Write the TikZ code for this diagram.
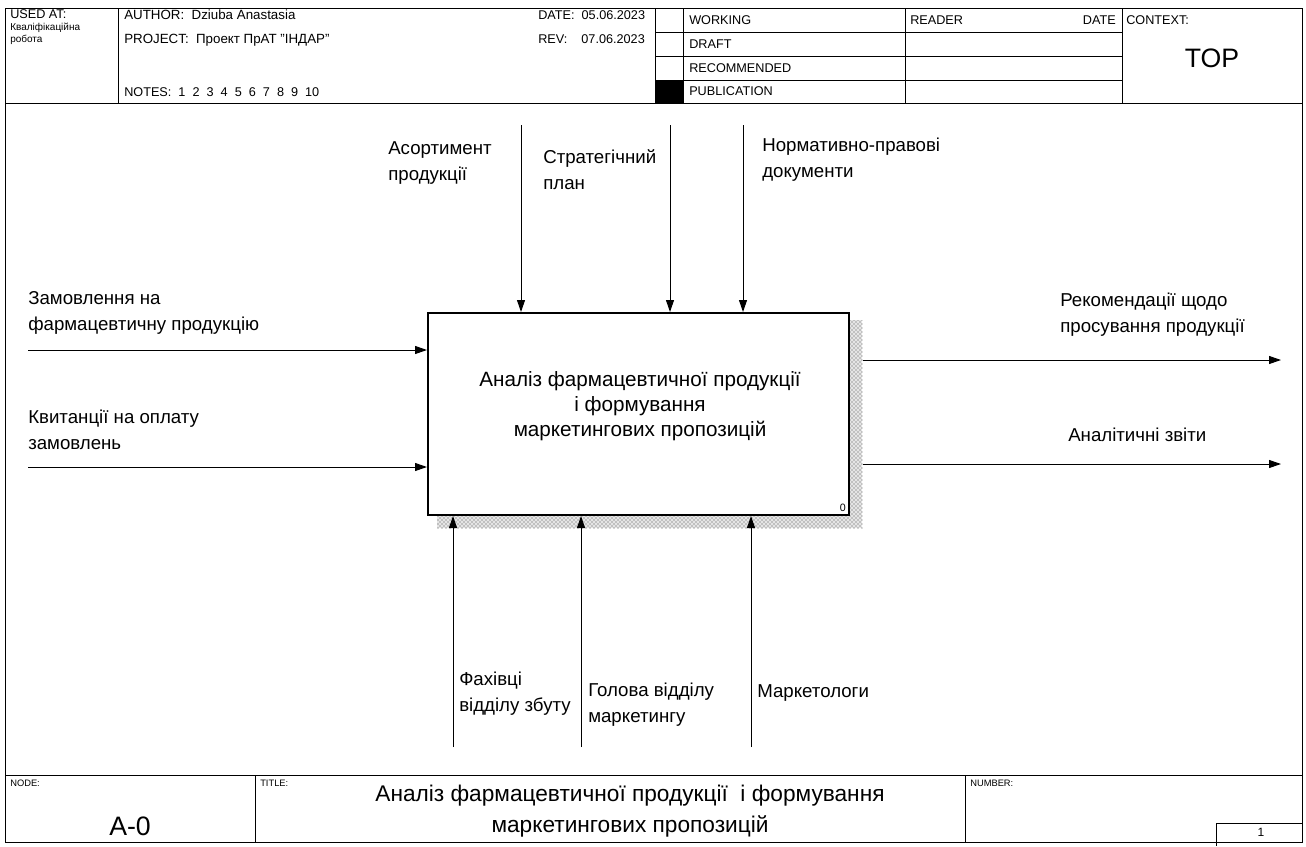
\documentclass[tikz,border=0pt]{standalone}
\usepackage{fontspec}
\setmainfont{Liberation Sans}
\usetikzlibrary{arrows.meta,patterns}
\begin{document}
\begin{tikzpicture}[x=0.75pt,y=-0.75pt,
  thin line/.style={line width=0.75pt},
  flow/.style={line width=0.75pt,-{Triangle[length=9pt,width=6pt]}},
  lbl/.style={font=\fontsize{14}{19.5}\selectfont,align=left,inner sep=0pt,anchor=base west},
  hdr/.style={font=\fontsize{9.5}{10}\selectfont,inner sep=0pt,anchor=base west},
  tiny/.style={font=\fontsize{7}{8}\selectfont,inner sep=0pt,anchor=base west},
  big/.style={font=\fontsize{20}{23}\selectfont,inner sep=0pt,align=center}]
\useasboundingbox (0,0) rectangle (1306,846);

% ---------- header block ----------
\draw[thin line] (5,8) rectangle (1302,103);
\foreach \xx in {118,655,683,905,1122} \draw[thin line] (\xx,8) -- (\xx,103);
\foreach \yy in {32,56,80} \draw[thin line] (655,\yy) -- (1122,\yy);
\fill (655,80) rectangle (683,103);

\node[hdr] (usedat) at (10,18) {USED AT:};
\node[tiny,font=\fontsize{7.5}{9}\selectfont,align=left] (usedtxt) at (10,42) {Кваліфікаційна\\робота};
\node[hdr,font=\fontsize{10}{11}\selectfont] (author) at (124,19) {AUTHOR:\ \ Dziuba Anastasia};
\node[hdr,font=\fontsize{10}{11}\selectfont] (project) at (124,43) {PROJECT:\ \ Проект ПрАТ "ІНДАР"};
\node[hdr] (notes) at (124,96) {NOTES:\ \ 1\ \ 2\ \ 3\ \ 4\ \ 5\ \ 6\ \ 7\ \ 8\ \ 9\ \ 10};
\node[hdr] (date) at (538,19) {DATE:\ \ 05.06.2023};
\node[hdr] (rev) at (538,43) {REV:\ \ \ \ 07.06.2023};
\node[hdr] (working) at (689,24) {WORKING};
\node[hdr] (draft) at (689,48) {DRAFT};
\node[hdr] (recom) at (689,72) {RECOMMENDED};
\node[hdr] (publ) at (689,95) {PUBLICATION};
\node[hdr] (reader) at (910,24) {READER};
\node[hdr,anchor=base east] (rdate) at (1116,24) {DATE};
\node[hdr] (context) at (1126,24) {CONTEXT:};
\node[big,anchor=center] (top) at (1212,58) {TOP};

% ---------- frame ----------
\draw[thin line] (5,103) -- (5,842) -- (1302,842) -- (1302,103);
\draw[thin line] (5,775) -- (1302,775);
\draw[thin line] (255,775) -- (255,842);
\draw[thin line] (965,775) -- (965,842);
\draw[thin line] (1216,823) -- (1302,823);
\draw[thin line] (1216,823) -- (1216,846);

\node[tiny] (nodelbl) at (10,786) {NODE:};
\node[tiny] (titlelbl) at (260,786) {TITLE:};
\node[tiny] (numlbl) at (970,786) {NUMBER:};
\node[big] (nodeid) at (130,826) {A-0};
\node[big,font=\fontsize{17}{23}\selectfont,anchor=center] (title) at (630,811) {Аналіз фармацевтичної продукції\ \ і формування\\маркетингових пропозицій};
\node[tiny,anchor=center,font=\fontsize{9}{10}\selectfont] (pagenum) at (1261,832) {1};

% ---------- function box ----------
\node[anchor=north west,minimum width=318.75pt,minimum height=156pt,inner sep=0pt,
      preaction={fill=gray!20},pattern=crosshatch dots,pattern color=gray!60!black] (shade) at (437,320) {};
\node[anchor=north west,minimum width=315.75pt,minimum height=151.5pt,inner sep=0pt,
      draw,line width=1.5pt,fill=white] (fn) at (427,312) {};
\node[font=\fontsize{15.5}{19}\selectfont,inner sep=0pt,align=center,anchor=center] (fntext) at (640,406)
  {Аналіз фармацевтичної продукції\\і формування\\маркетингових пропозицій};
\node[tiny,anchor=south east,font=\fontsize{8}{9}\selectfont] (fnnum) at ([xshift=-3pt,yshift=3pt]fn.south east) {0};

% ---------- inputs ----------
\coordinate (i1) at (28,350);
\coordinate (i2) at (28,467);
\draw[flow] (i1) -- (i1 -| fn.west);
\draw[flow] (i2) -- (i2 -| fn.west);
\node[lbl] (i1l) at (28,330.5) {Замовлення на\\фармацевтичну продукцію};
\node[lbl] (i2l) at (28,449.5) {Квитанції на оплату\\замовлень};

% ---------- outputs ----------
\coordinate (o1) at (1281,360);
\coordinate (o2) at (1281,464);
\draw[flow] (o1 -| shade.east) -- (o1);
\draw[flow] (o2 -| shade.east) -- (o2);
\node[lbl] (o1l) at (1060,332.5) {Рекомендації щодо\\просування продукції};
\node[lbl] (o2l) at (1068,441.5) {Аналітичні звіти};

% ---------- controls ----------
\coordinate (c1) at (521,125);
\coordinate (c2) at (670,125);
\coordinate (c3) at (743,125);
\draw[flow] (c1) -- (c1 |- fn.north);
\draw[flow] (c2) -- (c2 |- fn.north);
\draw[flow] (c3) -- (c3 |- fn.north);
\node[lbl] (c1l) at (388,180.5) {Асортимент\\продукції};
\node[lbl] (c2l) at (543,189.5) {Стратегічний\\план};
\node[lbl] (c3l) at (762,177.5) {Нормативно-правові\\документи};

% ---------- mechanisms ----------
\coordinate (m1) at (453,747);
\coordinate (m2) at (581,747);
\coordinate (m3) at (751,747);
\draw[flow] (m1) -- (m1 |- fn.south);
\draw[flow] (m2) -- (m2 |- fn.south);
\draw[flow] (m3) -- (m3 |- fn.south);
\node[lbl] (m1l) at (459,711.5) {Фахівці\\відділу збуту};
\node[lbl] (m2l) at (588,722.5) {Голова відділу\\маркетингу};
\node[lbl] (m3l) at (757,697.5) {Маркетологи};
\end{tikzpicture}
\end{document}
